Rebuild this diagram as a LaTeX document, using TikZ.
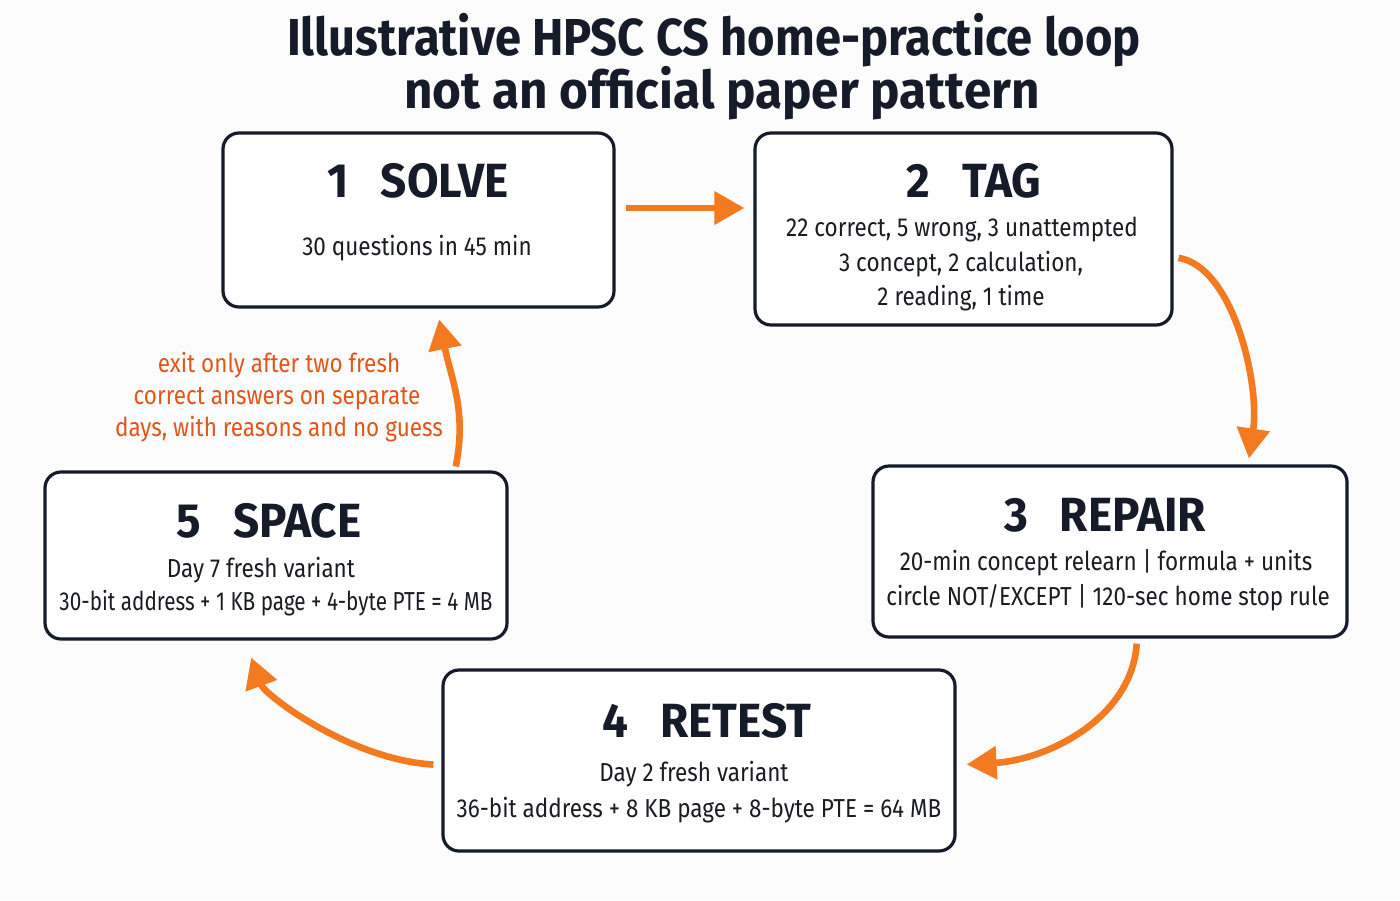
\documentclass[tikz,border=0pt]{standalone}
\usepackage{fontspec}
\setmainfont{Fira Sans}
\newfontfamily\bodyfont[FakeStretch=0.865]{Fira Sans}
\newfontfamily\bodynarrow[FakeStretch=0.797]{Fira Sans}
\newfontfamily\titlefont[FakeStretch=0.905]{Fira Sans}
\newfontfamily\titlewide[FakeStretch=0.95]{Fira Sans}
\newfontfamily\headfont[FakeStretch=0.955]{Fira Sans}
\usetikzlibrary{arrows.meta}
\definecolor{ink}{HTML}{161B2A}
\definecolor{bodyink}{HTML}{1A1C22}
\definecolor{arrowor}{HTML}{F47A20}
\definecolor{labelor}{HTML}{E2561A}
\definecolor{bg}{HTML}{FCFCFC}
\tikzset{
  box/.style={draw=ink, line width=1.6pt, rounded corners=8pt, fill=white, inner sep=0pt},
  head/.style={anchor=base, inner sep=0pt, text=ink, font=\headfont\fontsize{24}{28}\selectfont\bfseries},
  bodytxt/.style={anchor=base, inner sep=0pt, text=bodyink, font=\bodyfont\fontsize{13}{16}\selectfont},
  lbl/.style={anchor=base, inner sep=0pt, text=labelor, font=\bodyfont\fontsize{13}{16}\selectfont},
  ttl/.style={anchor=base, inner sep=0pt, text=ink, font=\titlefont\fontsize{26}{30}\selectfont\bfseries},
  arr/.style={draw=arrowor, line width=3.3pt, -{Triangle[width=16pt,length=15pt]}},
}
\newcommand{\gapnum}{\hspace{16pt}}
\begin{document}
\begin{tikzpicture}[x=0.5pt,y=-0.5pt]
\useasboundingbox (0,0) rectangle (1400,900);
\fill[bg] (0,0) rectangle (1400,900);
% title
\node[ttl] (t1) at (714,55) {Illustrative HPSC CS home-practice loop};
\node[ttl, font=\titlewide\fontsize{26}{30}\selectfont\bfseries] (t2) at (722,108) {not an official paper pattern};
% boxes
\node[box, minimum width=195.5pt, minimum height=87pt] (solve) at (418.5,220) {};
\node[box, minimum width=208.5pt, minimum height=96pt] (tag) at (963.5,229) {};
\node[box, minimum width=237pt, minimum height=85.5pt] (repair) at (1110,551.5) {};
\node[box, minimum width=256pt, minimum height=90.5pt] (retest) at (699,760.5) {};
\node[box, minimum width=231pt, minimum height=83.5pt] (space) at (276,555.5) {};
% texts
\node[head] (solveh) at (418,197) {1\gapnum SOLVE};
\node[bodytxt] (solve1) at (417,255) {30 questions in 45 min};
\node[head] (tagh) at (974,197) {2\gapnum TAG};
\node[bodytxt] (tag1) at (962,236) {22 correct, 5 wrong, 3 unattempted};
\node[bodytxt] (tag2) at (961,271) {3 concept, 2 calculation,};
\node[bodytxt] (tag3) at (961,305) {2 reading, 1 time};
\node[head] (repairh) at (1105,531) {3\gapnum REPAIR};
\node[bodytxt] (repair1) at (1106,570) {20-min concept relearn | formula + units};
\node[bodytxt] (repair2) at (1108,605) {circle NOT/EXCEPT | 120-sec home stop rule};
\node[head] (retesth) at (707,737) {4\gapnum RETEST};
\node[bodytxt] (retest1) at (694,781) {Day 2 fresh variant};
\node[bodytxt] (retest2) at (699,817) {36-bit address + 8 KB page + 8-byte PTE = 64 MB};
\node[head] (spaceh) at (269,537) {5\gapnum SPACE};
\node[bodytxt] (space1) at (261,577) {Day 7 fresh variant};
\node[bodytxt, font=\bodynarrow\fontsize{13}{16}\selectfont] (space2) at (276,610) {30-bit address + 1 KB page + 4-byte PTE = 4 MB};
% label
\node[lbl] (lab1) at (279,372) {exit only after two fresh};
\node[lbl] (lab2) at (277,404) {correct answers on separate};
\node[lbl] (lab3) at (279,436) {days, with reasons and no guess};
% arrows
\draw[arr, shorten <=5pt, shorten >=4.5pt] ([yshift=6pt]solve.east) -- ([yshift=6pt]solve.east -| tag.west);
\draw[arr, shorten <=2.5pt, shorten >=3pt] ([yshift=-14pt]tag.east) .. controls +(60,10) and +(12,-80) .. ([xshift=69pt]repair.north);
\draw[arr, shorten <=2.5pt, shorten >=5pt] ([xshift=13.5pt]repair.south) .. controls +(-5,80) and +(90,-5) .. ([yshift=-2.25pt]retest.east);
\draw[arr, shorten <=4pt, shorten >=9pt] ([yshift=-2.25pt]retest.west) .. controls +(-90,-5) and +(20,55) .. ([xshift=-15.5pt]space.south);
\draw[arr, shorten <=2pt, shorten >=5.5pt] ([xshift=89.5pt]space.north) .. controls +(12,-60) and +(14,70) .. ([xshift=9.25pt]solve.south);
\end{tikzpicture}
\end{document}
